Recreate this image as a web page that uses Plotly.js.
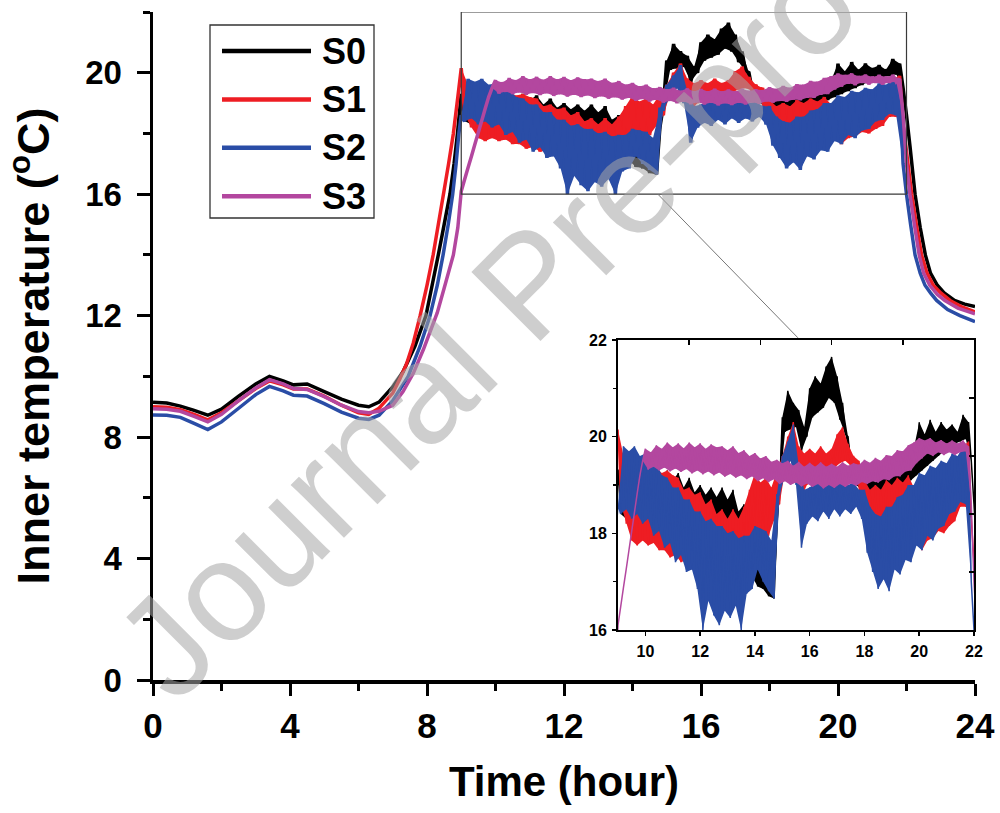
<!DOCTYPE html>
<html>
<head>
<meta charset="utf-8">
<script src="https://cdn.plot.ly/plotly-3.0.1.min.js"></script>
<style>html,body{margin:0;padding:0;background:#fff;}#chart{width:1000px;height:813px;}</style>
</head>
<body>
<div id="chart"></div>
<script>
// ---------------- DATA ----------------
const seriesNames = ['S0', 'S1', 'S2', 'S3'];
const seriesColors = ['#000000', '#EE1D23', '#2A4DA6', '#B3479F'];

// Night / morning rise (hours, temperature)
const nightHoursS0 = [0, 0.4, 0.8, 1.2, 1.6, 2.0, 2.5, 3.0, 3.4, 3.8, 4.1, 4.5, 5.0, 5.5, 6.0, 6.3, 6.6, 7.0, 7.3, 7.65, 7.97, 8.15, 8.33, 8.5, 8.67, 8.79, 8.89];
const nightTempS0  = [9.15, 9.12, 9.02, 8.88, 8.72, 8.92, 9.35, 9.75, 10.0, 9.85, 9.72, 9.75, 9.5, 9.25, 9.05, 9.0, 9.15, 9.65, 10.15, 11.0, 12.0, 13.0, 14.0, 15.0, 16.0, 17.0, 18.0];
const nightHoursS1 = [0, 0.4, 0.8, 1.2, 1.6, 2.0, 2.5, 3.0, 3.4, 3.8, 4.1, 4.5, 5.0, 5.5, 6.0, 6.3, 6.6, 7.0, 7.2, 7.4, 7.6, 7.8, 8.0, 8.18, 8.33, 8.48, 8.63, 8.77, 8.9];
const nightTempS1  = [9.0, 8.98, 8.9, 8.75, 8.57, 8.8, 9.2, 9.6, 9.85, 9.72, 9.58, 9.58, 9.35, 9.05, 8.8, 8.75, 8.95, 9.45, 9.9, 10.4, 11.1, 12.0, 13.0, 14.0, 15.0, 16.0, 17.0, 18.0, 19.2];
const nightHoursS2 = [0, 0.4, 0.8, 1.2, 1.6, 2.0, 2.5, 3.0, 3.4, 3.8, 4.1, 4.5, 5.0, 5.5, 6.0, 6.3, 6.6, 7.0, 7.45, 7.8, 8.09, 8.3, 8.47, 8.62, 8.75, 8.85, 8.93];
const nightTempS2  = [8.73, 8.72, 8.65, 8.45, 8.25, 8.5, 8.95, 9.4, 9.67, 9.52, 9.38, 9.35, 9.1, 8.82, 8.62, 8.58, 8.72, 9.2, 10.0, 11.0, 12.0, 13.0, 14.0, 15.0, 16.0, 17.0, 18.0];
const nightHoursS3 = [0, 0.4, 0.8, 1.2, 1.6, 2.0, 2.5, 3.0, 3.4, 3.8, 4.1, 4.5, 5.0, 5.5, 6.0, 6.3, 6.6, 7.0, 7.3, 7.6, 7.9, 8.1, 8.3, 8.5, 8.77, 8.9];
const nightTempS3  = [8.93, 8.92, 8.85, 8.68, 8.5, 8.75, 9.2, 9.62, 9.89, 9.75, 9.6, 9.57, 9.33, 9.05, 8.84, 8.8, 8.85, 9.05, 9.5, 10.1, 10.9, 11.5, 12.1, 12.9, 14.0, 14.9];

// Daytime fluctuation: upper readings (at dayHoursHigh) and lower readings (at dayHoursLow)
const dayHoursHigh = [9.0, 9.2, 9.4, 9.6, 9.8, 10.0, 10.2, 10.4, 10.6, 10.8, 11.0, 11.2, 11.4, 11.6, 11.8, 12.0, 12.2, 12.4, 12.6, 12.8, 13.0, 13.2, 13.4, 13.6, 13.8, 14.0, 14.2, 14.4, 14.6, 14.8, 15.0, 15.2, 15.4, 15.6, 15.8, 16.0, 16.2, 16.4, 16.6, 16.8, 17.0, 17.2, 17.4, 17.6, 17.8, 18.0, 18.2, 18.4, 18.6, 18.8, 19.0, 19.2, 19.4, 19.6, 19.8, 20.0, 20.2, 20.4, 20.6, 20.8, 21.0, 21.2, 21.4, 21.6, 21.8];
const dayHoursLow  = [9.1, 9.3, 9.5, 9.7, 9.9, 10.1, 10.3, 10.5, 10.7, 10.9, 11.1, 11.3, 11.5, 11.7, 11.9, 12.1, 12.3, 12.5, 12.7, 12.9, 13.1, 13.3, 13.5, 13.7, 13.9, 14.1, 14.3, 14.5, 14.7, 14.9, 15.1, 15.3, 15.5, 15.7, 15.9, 16.1, 16.3, 16.5, 16.7, 16.9, 17.1, 17.3, 17.5, 17.7, 17.9, 18.1, 18.3, 18.5, 18.7, 18.9, 19.1, 19.3, 19.5, 19.7, 19.9, 20.1, 20.3, 20.5, 20.7, 20.9, 21.1, 21.3, 21.5, 21.7, 21.9];

const dayHighS0 = [19.3, 19.5, 19.25, 19.4, 19.2, 19.3, 19.15, 19.35, 19.2, 19.3, 19.1, 19.25, 18.95, 19.15, 18.85, 19.0, 18.8, 18.95, 18.75, 18.95, 18.7, 18.9, 18.45, 18.6, 18.0, 17.9, 17.55, 17.7, 17.4, 18.2, 20.4, 20.95, 20.7, 20.55, 20.2, 21.0, 21.25, 21.1, 21.45, 21.65, 21.25, 20.7, 20.0, 19.3, 19.25, 19.05, 19.2, 19.05, 19.25, 19.2, 19.4, 19.3, 19.6, 19.5, 19.75, 20.3, 20.05, 20.35, 20.1, 20.3, 20.15, 20.25, 20.1, 20.45, 20.3];
const dayLowS0  = [18.4, 18.3, 18.2, 18.1, 18.0, 17.95, 18.0, 17.95, 17.9, 17.95, 17.9, 17.85, 17.8, 17.8, 17.75, 17.7, 17.7, 17.65, 17.6, 17.55, 17.5, 17.45, 17.4, 17.3, 17.1, 16.9, 16.85, 16.7, 16.65, 18.9, 20.1, 20.15, 20.2, 19.7, 20.0, 20.4, 20.5, 20.6, 20.8, 20.7, 20.35, 20.05, 19.4, 19.0, 18.9, 18.8, 18.75, 18.7, 18.8, 18.85, 18.95, 19.0, 19.05, 19.1, 19.2, 19.3, 19.4, 19.5, 19.6, 19.7, 19.8, 19.85, 19.9, 19.95, 19.5];

const dayHighS1 = [20.15, 19.6, 19.2, 19.05, 19.1, 19.2, 19.15, 19.35, 19.25, 19.3, 19.2, 19.15, 18.9, 18.95, 18.8, 18.85, 18.6, 18.7, 18.4, 18.5, 18.3, 18.5, 18.3, 18.55, 18.9, 19.25, 19.05, 19.15, 18.95, 19.3, 19.6, 20.0, 20.3, 19.8, 19.65, 19.75, 19.65, 19.8, 19.65, 19.75, 20.05, 20.2, 19.85, 19.6, 19.5, 19.1, 18.9, 19.0, 18.9, 19.1, 19.0, 19.15, 19.05, 19.2, 18.95, 19.0, 18.9, 18.95, 18.95, 19.15, 19.2, 19.45, 19.55, 19.8, 19.9];
const dayLowS1  = [18.6, 18.2, 17.85, 17.75, 17.85, 17.75, 17.8, 17.65, 17.65, 17.5, 17.55, 17.4, 17.45, 17.3, 17.35, 17.2, 17.25, 17.1, 17.15, 17.05, 17.15, 17.15, 17.4, 17.45, 17.75, 17.65, 17.85, 17.95, 18.25, 18.6, 19.3, 19.5, 19.6, 18.75, 19.0, 19.2, 19.3, 19.3, 19.3, 19.35, 19.45, 19.5, 19.4, 19.3, 18.4, 17.85, 17.85, 17.75, 17.9, 17.85, 17.95, 17.85, 17.95, 17.8, 17.8, 17.65, 17.85, 17.9, 18.05, 18.0, 18.15, 18.25, 18.55, 18.55, 18.3];

const dayHighS2 = [18.6, 19.8, 19.7, 19.8, 19.6, 19.65, 19.45, 19.45, 19.2, 19.15, 18.95, 18.95, 18.7, 18.7, 18.45, 18.45, 18.25, 18.3, 18.15, 18.15, 18.0, 18.05, 17.9, 17.95, 17.95, 18.15, 18.1, 18.05, 17.85, 18.8, 19.6, 19.9, 20.25, 19.4, 18.9, 18.95, 19.05, 19.25, 19.15, 19.2, 19.05, 19.15, 19.0, 19.05, 18.9, 18.9, 18.55, 18.4, 18.35, 18.55, 18.55, 18.75, 18.8, 19.0, 19.0, 19.25, 19.2, 19.4, 19.35, 19.5, 19.45, 19.65, 19.6, 19.78, 19.6];
const dayLowS2  = [18.4, 18.5, 18.3, 18.4, 18.2, 18.3, 17.95, 18.05, 17.7, 17.8, 17.4, 17.55, 17.2, 17.25, 16.85, 16.0, 16.6, 16.3, 16.1, 16.4, 16.25, 16.5, 16.0, 16.75, 16.85, 17.25, 17.0, 16.8, 16.65, 18.8, 19.2, 19.5, 19.0, 17.7, 18.2, 18.35, 18.25, 18.45, 18.3, 18.5, 18.35, 18.5, 18.4, 18.55, 18.3, 17.6, 17.2, 16.85, 17.05, 16.8, 17.25, 17.15, 17.45, 17.4, 17.75, 17.65, 17.95, 17.85, 18.1, 18.15, 18.4, 18.45, 18.65, 18.6, 17.0];

const dayHighS3 = [16.1, 16.88, 17.65, 18.43, 19.2, 19.75, 19.68, 19.82, 19.75, 19.88, 19.78, 19.86, 19.76, 19.88, 19.78, 19.86, 19.75, 19.84, 19.78, 19.8, 19.72, 19.8, 19.66, 19.72, 19.6, 19.66, 19.55, 19.6, 19.48, 19.52, 19.45, 19.5, 19.4, 19.48, 19.38, 19.46, 19.38, 19.47, 19.38, 19.44, 19.38, 19.47, 19.4, 19.45, 19.42, 19.52, 19.46, 19.56, 19.5, 19.62, 19.6, 19.72, 19.7, 19.82, 19.88, 19.97, 19.92, 19.97, 19.88, 19.93, 19.86, 19.92, 19.86, 19.92, 19.8];
const dayLowS3  = [16.49, 17.26, 18.04, 18.82, 19.5, 19.32, 19.38, 19.3, 19.36, 19.28, 19.34, 19.27, 19.33, 19.24, 19.3, 19.22, 19.28, 19.2, 19.26, 19.17, 19.23, 19.15, 19.2, 19.12, 19.18, 19.08, 19.14, 19.06, 19.12, 19.02, 19.08, 19.0, 19.05, 18.97, 19.03, 18.96, 19.02, 18.93, 19.0, 18.94, 19.02, 18.96, 19.03, 18.98, 19.06, 19.02, 19.08, 19.05, 19.12, 19.1, 19.18, 19.18, 19.28, 19.3, 19.45, 19.55, 19.65, 19.6, 19.68, 19.62, 19.68, 19.62, 19.68, 19.7, 18.6];

// Evening decay
const eveHoursS0 = [22.0, 22.1, 22.25, 22.4, 22.55, 22.7, 22.9, 23.1, 23.4, 23.7, 24.0];
const eveTempS0  = [18.6, 17.6, 16.0, 14.9, 14.0, 13.4, 13.0, 12.75, 12.5, 12.38, 12.3];
const eveHoursS1 = [22.0, 22.15, 22.3, 22.44, 22.6, 22.78, 23.0, 23.27, 23.6, 24.0];
const eveTempS1  = [17.4, 16.0, 14.9, 14.0, 13.4, 13.0, 12.75, 12.5, 12.3, 12.12];
const eveHoursS2 = [22.0, 22.12, 22.25, 22.4, 22.54, 22.7, 22.88, 23.2, 23.56, 24.0];
const eveTempS2  = [16.0, 15.0, 14.0, 13.4, 13.0, 12.75, 12.5, 12.2, 12.0, 11.8];
const eveHoursS3 = [22.0, 22.1, 22.23, 22.37, 22.5, 22.68, 22.9, 23.12, 23.5, 24.0];
const eveTempS3  = [17.0, 16.0, 15.0, 14.0, 13.4, 13.0, 12.7, 12.5, 12.25, 12.06];

// Axis ticks / ranges
const mainXTicks = [0, 4, 8, 12, 16, 20, 24];
const mainYTicks = [0, 4, 8, 12, 16, 20];
const insetXTicks = [10, 12, 14, 16, 18, 20, 22];
const insetYTicks = [16, 18, 20, 22];
const insetXRange = [9, 22];
const insetYRange = [16, 22];

// ---------------- BUILD ----------------
const dayHigh = [dayHighS0, dayHighS1, dayHighS2, dayHighS3];
const dayLow = [dayLowS0, dayLowS1, dayLowS2, dayLowS3];

function joinSeries(nh, nt, hi, lo, eh, et) {
  const x = nh.slice(), y = nt.slice();
  for (let i = 0; i < dayHoursHigh.length; i++) {
    x.push(dayHoursHigh[i]); y.push(hi[i]);
    x.push(dayHoursLow[i]); y.push(lo[i]);
  }
  return {x: x.concat(eh), y: y.concat(et)};
}
function band(hi, lo) {
  return {
    x: dayHoursHigh.concat(dayHoursLow.slice().reverse()),
    y: hi.concat(lo.slice().reverse())
  };
}
const all = [
  joinSeries(nightHoursS0, nightTempS0, dayHighS0, dayLowS0, eveHoursS0, eveTempS0),
  joinSeries(nightHoursS1, nightTempS1, dayHighS1, dayLowS1, eveHoursS1, eveTempS1),
  joinSeries(nightHoursS2, nightTempS2, dayHighS2, dayLowS2, eveHoursS2, eveTempS2),
  joinSeries(nightHoursS3, nightTempS3, dayHighS3, dayLowS3, eveHoursS3, eveTempS3)
];

const traces = [];
function addSet(xa, ya, w) {
  all.forEach((s, i) => {
    const b = band(dayHigh[i], dayLow[i]);
    traces.push({
      type: 'scatter', mode: 'lines', x: b.x, y: b.y, xaxis: xa, yaxis: ya,
      fill: 'toself', fillcolor: seriesColors[i], line: {width: 0, color: seriesColors[i]},
      showlegend: false, hoverinfo: 'skip'
    });
    traces.push({
      type: 'scatter', mode: 'lines', name: seriesNames[i], x: s.x, y: s.y,
      xaxis: xa, yaxis: ya, line: {color: seriesColors[i], width: w, simplify: false},
      showlegend: false, hoverinfo: 'skip'
    });
  });
}
addSet('x', 'y', 3.5);
addSet('x2', 'y2', 1.5);
// carriers for the mirrored tick axes of the inset
traces.push({type: 'scatter', mode: 'lines', x: [], y: [], xaxis: 'x3', yaxis: 'y2', showlegend: false, hoverinfo: 'skip'});
traces.push({type: 'scatter', mode: 'lines', x: [], y: [], xaxis: 'x2', yaxis: 'y3', showlegend: false, hoverinfo: 'skip'});

// pixel -> paper helpers (plot area: x 153..975, y 12..680)
const L = 153, R = 975, T = 12, B = 680;
const px = v => (v - L) / (R - L);
const py = v => (B - v) / (B - T);

const FONT = 'Liberation Sans, Arial, Helvetica, sans-serif';

const shapes = [
  {type: 'rect', xref: 'x', yref: 'y', x0: insetXRange[0], x1: insetXRange[1], y0: insetYRange[0], y1: insetYRange[1],
   line: {color: '#3a3a3a', width: 1.2}},
  {type: 'line', xref: 'x', yref: 'y', x0: 14.74, y0: 16, x1: 18.83, y1: 11.27, line: {color: '#777', width: 1}},
  {type: 'rect', xref: 'paper', yref: 'paper', x0: px(210), x1: px(374), y0: py(218), y1: py(25),
   line: {color: '#333', width: 1.3}}
];
const annotations = [];
seriesNames.forEach((n, i) => {
  const yy = 51 + 48.4 * i;
  shapes.push({type: 'line', xref: 'paper', yref: 'paper', x0: px(222), x1: px(311), y0: py(yy), y1: py(yy),
    line: {color: seriesColors[i], width: 4.5}});
  annotations.push({xref: 'paper', yref: 'paper', x: px(320), y: py(yy), xanchor: 'left', yanchor: 'middle',
    text: n, showarrow: false, font: {family: FONT, size: 36, weight: 'bold', color: '#000'}});
});
// watermark
annotations.push({xref: 'paper', yref: 'paper', x: px(528), y: py(283), xanchor: 'center', yanchor: 'middle',
  text: 'Journal Pre-proof', textangle: -45, showarrow: false,
  font: {family: FONT, size: 142, color: 'rgba(165,165,165,0.55)'}});

const tickBase = {showline: true, linecolor: '#000', showgrid: false, zeroline: false, ticks: 'outside', tickcolor: '#000'};

const layout = {
  width: 1000, height: 813,
  margin: {l: L, r: 1000 - R, t: T, b: 813 - B, pad: 0},
  paper_bgcolor: '#fff', plot_bgcolor: 'rgba(255,255,255,0)',
  showlegend: false,
  font: {family: FONT, color: '#000'},
  xaxis: Object.assign({}, tickBase, {
    domain: [0, 1], anchor: 'y', range: [0, 24], tickmode: 'array', tickvals: mainXTicks,
    ticklen: 12, tickwidth: 3, linewidth: 3.5, ticklabelstandoff: 0,
    tickfont: {family: FONT, size: 35, weight: 'bold'},
    minor: {dtick: 2, tick0: 0, ticks: 'outside', ticklen: 7, tickwidth: 3, tickcolor: '#000', showgrid: false},
    title: {text: 'Time (hour)', font: {family: FONT, size: 42, weight: 'bold'}, standoff: 24}
  }),
  yaxis: Object.assign({}, tickBase, {
    domain: [0, 1], anchor: 'x', range: [0, 22], tickmode: 'array', tickvals: mainYTicks,
    ticklen: 13, tickwidth: 3, linewidth: 3.5, ticklabelstandoff: 8,
    tickfont: {family: FONT, size: 33, weight: 'bold'},
    minor: {dtick: 2, tick0: 0, ticks: 'outside', ticklen: 7, tickwidth: 3, tickcolor: '#000', showgrid: false},
    title: {text: 'Inner temperature (<sup>o</sup>C)', font: {family: FONT, size: 45, weight: 'bold'}, standoff: 22}
  }),
  xaxis2: Object.assign({}, tickBase, {
    domain: [px(618), px(974)], anchor: 'y2', range: insetXRange, tickmode: 'array', tickvals: insetXTicks,
    ticklen: 4, tickwidth: 1.5, linewidth: 2, mirror: true, ticklabelstandoff: 2,
    tickfont: {family: FONT, size: 16, weight: 'bold'}
  }),
  yaxis2: Object.assign({}, tickBase, {
    domain: [py(630), py(340)], anchor: 'x2', range: insetYRange, tickmode: 'array', tickvals: insetYTicks,
    ticklen: 4, tickwidth: 1.5, linewidth: 2, mirror: true, ticklabelstandoff: 2,
    tickfont: {family: FONT, size: 16, weight: 'bold'},
    minor: {dtick: 1, tick0: 16, ticks: 'outside', ticklen: 3, tickwidth: 1.5, tickcolor: '#000', showgrid: false}
  }),
  xaxis3: {overlaying: 'x2', anchor: 'y2', side: 'top', range: [0, 5], dtick: 1, tick0: 0, ticks: 'inside',
    ticklen: 5, tickwidth: 1.5, tickcolor: '#000', showticklabels: false, showline: false, showgrid: false, zeroline: false},
  yaxis3: {overlaying: 'y2', anchor: 'x2', side: 'right', range: [0, 5], dtick: 1, tick0: 0, ticks: 'inside',
    ticklen: 5, tickwidth: 1.5, tickcolor: '#000', showticklabels: false, showline: false, showgrid: false, zeroline: false},
  shapes: shapes,
  annotations: annotations
};

Plotly.newPlot('chart', traces, layout, {staticPlot: true, displayModeBar: false});
</script>
</body>
</html>
